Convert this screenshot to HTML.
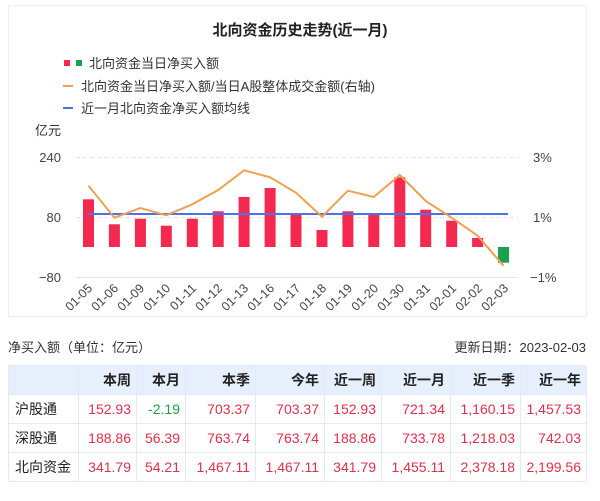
<!DOCTYPE html>
<html><head><meta charset="utf-8"><style>
body{margin:0;background:#fff;font-family:"Liberation Sans","Noto Sans CJK SC",sans-serif;}
.wrap{position:relative;width:600px;height:501px;overflow:hidden}
table{position:absolute;left:8px;top:365px;border-collapse:collapse;font-size:14px;table-layout:fixed;width:578px}
td,th{border:1px solid #e4eaf5;height:28px;padding:0 5px 0 0;text-align:right;color:#e0304c;font-weight:normal;white-space:nowrap;overflow:hidden}
th{background:#e8effc;color:#222;font-weight:bold;height:28px}
td.n{text-align:left;color:#222;padding-left:6px}
.g{color:#21a040}
</style></head><body><div class="wrap">
<svg width="600" height="362" style="position:absolute;left:0;top:0" font-family="Liberation Sans, Noto Sans CJK SC, sans-serif">
<rect x="8.5" y="5.5" width="578" height="311" fill="none" stroke="#eceef2"/>
<text x="300" y="35" text-anchor="middle" font-size="15" font-weight="bold" fill="#222">北向资金历史走势(近一月)</text>
<rect x="64" y="60" width="6" height="6" fill="#f5284f"/><rect x="76" y="60" width="6" height="6" fill="#1aa150"/>
<text x="89" y="68" font-size="13" fill="#333">北向资金当日净买入额</text>
<rect x="63" y="85" width="10" height="2" fill="#f0a050"/>
<text x="81" y="91" font-size="13" fill="#333">北向资金当日净买入额/当日A股整体成交金额(右轴)</text>
<rect x="63" y="107" width="10" height="2" fill="#4a73e8"/>
<text x="81" y="113" font-size="13" fill="#333">近一月北向资金净买入额均线</text>
<text x="35" y="135" font-size="13" fill="#333">亿元</text>
<g stroke="#e4e4e4" stroke-width="1"><line x1="76" y1="157.5" x2="518" y2="157.5" stroke-dasharray="4,3"/><line x1="76" y1="217.5" x2="518" y2="217.5" stroke-dasharray="4,3"/><line x1="76" y1="277.5" x2="518" y2="277.5"/></g>
<g font-size="13" fill="#444" text-anchor="end"><text x="61" y="162">240</text><text x="61" y="222">80</text><text x="61" y="282">−80</text></g>
<g font-size="13" fill="#444"><text x="533" y="162">3%</text><text x="533" y="222">1%</text><text x="530" y="282">−1%</text></g>
<g fill="#f5284f">
<rect x="83" y="199.3" width="11" height="47.7"/><rect x="108.9" y="224.3" width="11" height="22.7"/><rect x="134.9" y="218.7" width="11" height="28.3"/><rect x="160.8" y="225.7" width="11" height="21.3"/><rect x="186.8" y="218.7" width="11" height="28.3"/><rect x="212.7" y="211.3" width="11" height="35.7"/><rect x="238.6" y="197" width="11" height="50"/><rect x="264.6" y="188" width="11" height="59"/><rect x="290.5" y="213.3" width="11" height="33.7"/><rect x="316.5" y="230" width="11" height="17"/><rect x="342.4" y="211.3" width="11" height="35.7"/><rect x="368.3" y="213.3" width="11" height="33.7"/><rect x="394.3" y="177.3" width="11" height="69.7"/><rect x="420.2" y="209.7" width="11" height="37.3"/><rect x="446.2" y="220.7" width="11" height="26.3"/><rect x="472.1" y="238" width="11" height="9"/></g>
<rect x="498" y="247" width="11" height="15.7" fill="#1aa150"/>
<line x1="88" y1="214" x2="508" y2="214" stroke="#4a73e8" stroke-width="2"/>
<polyline fill="none" stroke="#f0a050" stroke-width="2" points="88.5,185.7 114.4,217.7 140.4,208 166.3,215.3 192.3,204.3 218.2,190 244.1,170.3 270.1,177.3 296,192.7 322,216.7 347.9,190.7 373.8,197 399.8,175 425.7,201 451.7,217.7 477.6,235.7 503.5,265.7"/>
<g font-size="12.5" fill="#444" text-anchor="end">
<text transform="translate(93,289) rotate(-45)">01-05</text><text transform="translate(119,289) rotate(-45)">01-06</text><text transform="translate(145,289) rotate(-45)">01-09</text><text transform="translate(171,289) rotate(-45)">01-10</text><text transform="translate(197,289) rotate(-45)">01-11</text><text transform="translate(223,289) rotate(-45)">01-12</text><text transform="translate(249,289) rotate(-45)">01-13</text><text transform="translate(275,289) rotate(-45)">01-16</text><text transform="translate(301,289) rotate(-45)">01-17</text><text transform="translate(327,289) rotate(-45)">01-18</text><text transform="translate(353,289) rotate(-45)">01-19</text><text transform="translate(379,289) rotate(-45)">01-20</text><text transform="translate(405,289) rotate(-45)">01-30</text><text transform="translate(431,289) rotate(-45)">01-31</text><text transform="translate(457,289) rotate(-45)">02-01</text><text transform="translate(483,289) rotate(-45)">02-02</text><text transform="translate(509,289) rotate(-45)">02-03</text></g>
<rect x="8" y="317" width="580" height="15" fill="#fff"/>
<text x="8" y="352" font-size="13" fill="#333">净买入额（单位：亿元）</text>
<text x="586" y="352" font-size="13" fill="#333" text-anchor="end">更新日期：2023-02-03</text>
</svg>
<table>
<colgroup><col style="width:70px"><col style="width:58px"><col style="width:49px"><col style="width:70px"><col style="width:69px"><col style="width:57px"><col style="width:69px"><col style="width:70px"><col style="width:66px"></colgroup>
<tr><th></th><th>本周</th><th>本月</th><th>本季</th><th>今年</th><th>近一周</th><th>近一月</th><th>近一季</th><th>近一年</th></tr>
<tr><td class="n">沪股通</td><td>152.93</td><td class="g">-2.19</td><td>703.37</td><td>703.37</td><td>152.93</td><td>721.34</td><td>1,160.15</td><td>1,457.53</td></tr>
<tr><td class="n">深股通</td><td>188.86</td><td>56.39</td><td>763.74</td><td>763.74</td><td>188.86</td><td>733.78</td><td>1,218.03</td><td>742.03</td></tr>
<tr><td class="n">北向资金</td><td>341.79</td><td>54.21</td><td>1,467.11</td><td>1,467.11</td><td>341.79</td><td>1,455.11</td><td>2,378.18</td><td>2,199.56</td></tr>
</table>
</div></body></html>
